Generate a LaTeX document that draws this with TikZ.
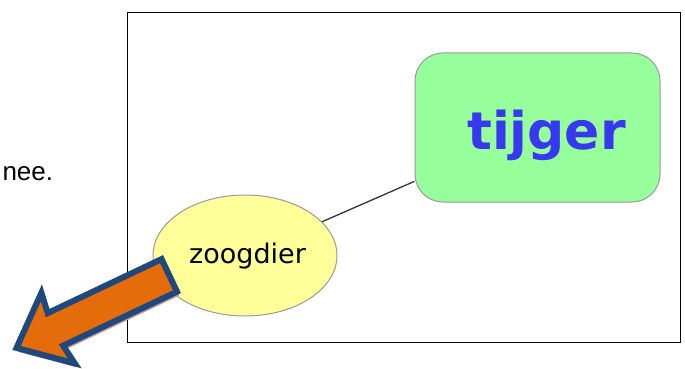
\documentclass[tikz,border=0pt]{standalone}
\usepackage{fontspec}
\setmainfont{DejaVu Sans}
\newfontfamily\neefont{Liberation Sans}
\usetikzlibrary{shapes.geometric}
\definecolor{boxgreen}{RGB}{150,255,155}
\definecolor{tigblue}{RGB}{56,56,240}
\definecolor{ellyellow}{RGB}{255,255,153}
\definecolor{arroworange}{RGB}{228,108,10}
\definecolor{arrowblue}{RGB}{31,73,125}
\definecolor{arrowshadow}{RGB}{200,150,150}
\tikzset{
  conceptbox/.style={draw=gray!80, line width=1pt, fill=boxgreen, rounded corners=28pt,
    minimum width=245pt, minimum height=149pt, inner sep=0pt, text=tigblue,
    font=\fontsize{52}{52}\selectfont\bfseries},
  conceptell/.style={draw=gray!80, line width=1pt, fill=ellyellow, ellipse,
    minimum width=184pt, minimum height=121pt, inner sep=0pt,
    font=\fontsize{27}{27}\selectfont},
  link/.style={draw=black!80, line width=1.3pt},
  frame/.style={draw=black, line width=1.6pt},
  bigarrow/.style={fill=arroworange, draw=arrowblue, line width=6pt, line join=miter}
}
\begin{document}
\begin{tikzpicture}[x=1pt,y=-1pt]
\useasboundingbox (0,0) rectangle (685,369);
\draw[frame] (127.5,12.5) rectangle (680.5,342.5);
\node[anchor=base west, font=\neefont\fontsize{26}{26}\selectfont] (nee) at (-1,180) {nee.};
\node[conceptbox] (tij) at (537.5,127.5) {\hspace*{18pt}\raisebox{-22pt}[0pt][0pt]{tijger}};
\node[conceptell] (zoo) at (245,255.5) {\hspace*{5pt}\raisebox{-8pt}[0pt][0pt]{zoogdier}};
\draw[link] (zoo) -- (tij);
\fill[arrowshadow, shift={(2,4)}] (16.5,347.9) -- (41.4,292.8) -- (47.7,313.1) -- (161.6,259.1)
  -- (177,291.7) -- (63.1,345.7) -- (74.8,363.4) -- cycle;
\path[bigarrow] (16.5,347.9) -- (41.4,292.8) -- (47.7,313.1) -- (161.6,259.1)
  -- (177,291.7) -- (63.1,345.7) -- (74.8,363.4) -- cycle;
\end{tikzpicture}
\end{document}
